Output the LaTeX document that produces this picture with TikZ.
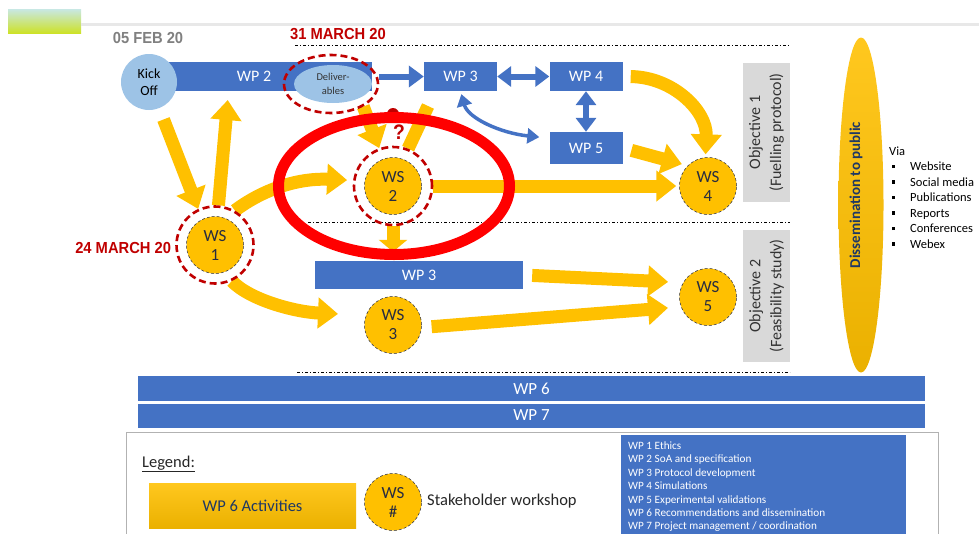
\documentclass[tikz,border=0pt]{standalone}
\usepackage{fontspec}
\setmainfont{Carlito}
\newfontfamily\datefont[FakeStretch=0.92]{Liberation Sans}
\usetikzlibrary{positioning,shapes.geometric,arrows.meta,backgrounds}
\definecolor{wpblue}{RGB}{68,114,196}
\definecolor{skyblue}{RGB}{157,195,230}
\definecolor{ylw}{RGB}{255,192,0}
\definecolor{darkred}{RGB}{192,0,0}
\definecolor{objgray}{RGB}{217,217,217}
\definecolor{navy}{RGB}{31,56,100}
\definecolor{wstext}{RGB}{40,44,64}

\begin{document}
\begin{tikzpicture}[x=1pt, y=-1pt,
    wpbox/.style = {rectangle, fill=wpblue, text=white, inner sep=0pt, font=\fontsize{16}{18}\selectfont},
    wsnode/.style = {circle, minimum size=57pt, inner sep=0pt, fill=ylw, draw=wstext, densely dashed, line width=0.5pt,
                     text=wstext, align=center, font=\fontsize{17}{19}\selectfont},
    ring/.style = {circle, draw=darkred, line width=2.6pt, dash pattern=on 7pt off 4pt, minimum size=#1, inner sep=0pt},
    datelabel/.style = {inner sep=0pt, font=\datefont\bfseries\fontsize{16}{18}\selectfont},
    objbox/.style = {rectangle, fill=objgray, rotate=90, align=center, inner sep=0pt, text=black!80,
                     font=\fontsize{16}{21}\selectfont},
    fat/.style = {draw=ylw, line width=13pt, -{Triangle[length=20pt,width=30pt]}},
    bluearr/.style = {draw=wpblue, line width=6pt, {Triangle[length=14pt,width=20pt]}-{Triangle[length=14pt,width=20pt]}},
    dashdot/.style = {line width=0.8pt, dash pattern=on 3pt off 2pt on 1pt off 2pt},
    small/.style = {anchor=base west, inner sep=0pt, font=\fontsize{12.5}{14}\selectfont}
    ]
    \useasboundingbox (0,0) rectangle (979,533);

    % header strip
    \fill[top color={rgb,255:red,200;green,232;blue,228}, bottom color={rgb,255:red,205;green,226;blue,40}] (8,9) rectangle (81,33);
    \draw[line width=3pt, black!9] (81,24) -- (979,24);

    \draw[dashdot] (295,45) -- (790,45);
    \draw[dashdot] (308,222) -- (790,222);
    \draw[dashdot] (297,372) -- (790,372);

    % work packages
    \node[wpbox, minimum width=236, minimum height=29] (wp2) at (254,76.5) {WP 2};
    \node[circle, fill=skyblue, minimum size=56, inner sep=0pt, align=center, font=\fontsize{14}{17}\selectfont] (kick) at (149,82) {Kick\\Off};
    \node[ellipse, fill=skyblue, minimum width=78, minimum height=38, inner sep=0pt, align=center, text=black!80,
          font=\fontsize{10.5}{13.4}\selectfont] (deliv) at (333,84) {Deliver-\\ables};
    \node[ellipse, draw=darkred, line width=2.6pt, dash pattern=on 7pt off 4pt, minimum width=94, minimum height=58] (dring) at (331,84) {};
    \node[wpbox, minimum width=73, minimum height=29] (wp3) at (460.5,76.5) {WP 3};
    \node[wpbox, minimum width=73, minimum height=29] (wp4) at (586,76.5) {WP 4};
    \node[wpbox, minimum width=73, minimum height=32] (wp5) at (586,148) {WP 5};
    \node[wpbox, minimum width=208, minimum height=28] (wp3b) at (419,275) {WP 3};
    \node[wpbox, minimum width=787, minimum height=25, font=\fontsize{17}{18}\selectfont] (wp6) at (531.5,388.5) {WP 6};
    \node[wpbox, minimum width=787, minimum height=24, font=\fontsize{17}{18}\selectfont] (wp7) at (531.5,415.5) {WP 7};

    \draw[bluearr, -{Triangle[length=15pt,width=21pt]}] (wp3.west -| dring.east) -- (wp3.west);
    \draw[bluearr] (wp3.east) -- (wp4.west);
    \draw[bluearr] (wp4.south) -- (wp5.north);
    \draw[bluearr, line width=3.5pt, {Triangle[length=12pt,width=15pt]}-{Triangle[length=12pt,width=15pt]}, shorten <=3pt, shorten >=10pt]
        (wp3.south) .. controls (468,118) and (500,133) .. (wp5.165);

    % workshops
    \node[wsnode] (ws1) at (215,245) {WS\\1};
    \node[wsnode] (ws2) at (393,186) {WS\\2};
    \node[wsnode] (ws3) at (393,325) {WS\\3};
    \node[wsnode] (ws4) at (708,186) {WS\\4};
    \node[wsnode] (ws5) at (708,297) {WS\\5};
    \node[ring=77pt] (ring1) at (ws1) {};
    \node[ring=78pt] (ring2) at (ws2) {};

    \node[datelabel, text=black!50] (feb) at (148,38) {05 FEB 20};
    \node[datelabel, text=darkred] (march31) at (338,34) {31 MARCH 20};
    \node[datelabel, text=darkred, left=4pt of ring1, yshift=-3pt] (march24) {24 MARCH 20};

    \coordinate (wp2tip) at (228,97);
    \coordinate (up2) at (428,106);
    \begin{scope}[on background layer]
    \draw[fat, shorten <=12pt] (kick) -- (ring1.115);
    \draw[fat, shorten >=3pt] (ring1.85) -- (wp2tip);
    \draw[fat, shorten >=6pt] (ring1.60) .. controls (265,188) and (300,178) .. (ring2.172);
    \draw[fat, shorten >=28pt] (ring1.-65) .. controls (250,300) and (295,312) .. (ws3.160);
    \draw[fat] (dring.-35) -- (ring2.110);
    \draw[draw=ylw, line width=13pt] (ring2.68) -- (up2);
    \draw[fat, shorten >=3pt] (ring2.east) -- (ws4.west);
    \draw[fat, -{Triangle[length=12pt,width=28pt]}, shorten >=9pt] (ring2.south) -- (ring2.south |- wp3b.north);
    \draw[fat, shorten <=8pt, shorten >=3pt] (wp4.east) .. controls (673,77) and (707,111) .. (ws4.95);
    \draw[fat, shorten <=9pt, shorten >=6pt] (wp5.east) -- (ws4.135);
    \draw[fat, shorten <=9pt, shorten >=15pt] (wp3b.east) -- (ws5.150);
    \draw[fat, shorten <=10pt, shorten >=13pt] (ws3.-5) -- (ws5.200);
    \end{scope}

    % objectives and dissemination
    \node[objbox, minimum width=139, minimum height=47] (obj1) at (766.5,132.5) {Objective 1\\(Fuelling protocol)};
    \node[objbox, minimum width=132, minimum height=47] (obj2) at (766.5,296) {Objective 2\\(Feasibility study)};
    \node[ellipse, minimum width=45, minimum height=335, inner sep=0pt, top color=ylw!88!white, bottom color=ylw!92!black] (dissem) at (861,205) {};
    \node[rotate=90, inner sep=0pt, text=navy, font=\bfseries\fontsize{15}{18}\selectfont] (dissemtext) at (856,195) {Dissemination to public};

    \node[small] (via) at (889,155) {Via};
    \foreach \entry [count=\i] in {Website, Social media, Publications, Reports, Conferences, Webex}
        \node[small] (via\i) at (892,155+15.5*\i) {\makebox[18pt][l]{\rule[2.5pt]{3.2pt}{3.2pt}}\entry};

    % legend
    \node[draw=black!30, line width=0.8pt, minimum width=812, minimum height=120, anchor=north west, inner sep=0pt] (legend) at (126,432) {};
    \node[anchor=base west, inner sep=0pt, text=black!85, font=\fontsize{16.5}{18}\selectfont] (legendtitle) at (142,467) {\underline{Legend:}};
    \node[rectangle, minimum width=207, minimum height=45, top color=ylw!88!white, bottom color=ylw!92!black, text=navy,
          font=\fontsize{16.5}{18}\selectfont] (actkey) at (252.5,505.5) {WP 6 Activities};
    \node[wsnode] (wskey) at (393,502) {WS\\\#};
    \node[anchor=west, inner sep=0pt, text=black!85, font=\fontsize{16.5}{18}\selectfont] (wskeytext) at (427,501) {Stakeholder workshop};
    \node[fill=wpblue, minimum width=285, minimum height=110, anchor=north west, inner sep=0pt] (wplist) at (621,435) {};
    \foreach \entry [count=\i] in {WP 1 Ethics, WP 2 SoA and specification, WP 3 Protocol development, WP 4 Simulations,
        WP 5 Experimental validations, WP 6 Recommendations and dissemination, WP 7 Project management / coordination}
        \node[anchor=base west, inner sep=0pt, text=white, font=\fontsize{11.2}{12}\selectfont] (wpl\i) at (628,436.1+13.4*\i) {\entry};

    % highlight
    \node[circle, fill=darkred, minimum size=12, inner sep=0pt] (dot) at (393,114) {};
    \node[ellipse, draw=red, line width=11pt, minimum width=231, minimum height=137, inner sep=0pt] (focus) at (394,186) {};
    \node[inner sep=0pt, text=darkred, font=\datefont\bfseries\fontsize{21}{22}\selectfont] (qmark) at (399,132) {?};
\end{tikzpicture}
\end{document}
